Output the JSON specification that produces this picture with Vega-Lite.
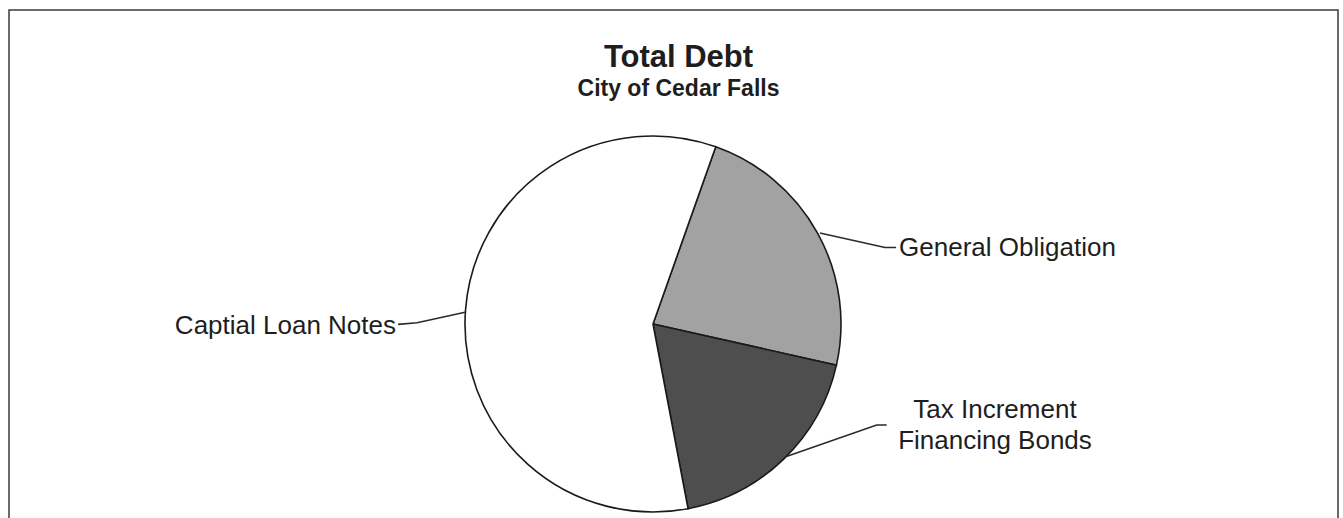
{
  "$schema": "https://vega.github.io/schema/vega-lite/v6.json",
  "width": 1329,
  "height": 512,
  "autosize": "none",
  "padding": {"left": 9, "top": 10, "right": 5, "bottom": -4},
  "background": "white",
  "title": {
    "text": "Total Debt",
    "subtitle": "City of Cedar Falls",
    "anchor": "middle",
    "offset": -92,
    "dx": 5,
    "font": "Liberation Sans",
    "fontSize": 31,
    "fontWeight": "bold",
    "color": "#1e1e1e",
    "subtitleFont": "Liberation Sans",
    "subtitleFontSize": 23,
    "subtitleFontWeight": "bold",
    "subtitleColor": "#1e1e1e",
    "subtitlePadding": 4
  },
  "datasets": {
    "slices": [
      {"category": "General Obligation", "share": 23.1, "ord": 1},
      {"category": "Tax Increment Financing Bonds", "share": 18.5, "ord": 2},
      {"category": "Captial Loan Notes", "share": 58.4, "ord": 3}
    ],
    "leaders": [
      {"category": "General Obligation", "seq": 1, "lx": 0.888, "ly": 0.484},
      {"category": "General Obligation", "seq": 2, "lx": 1.234, "ly": 0.407},
      {"category": "General Obligation", "seq": 3, "lx": 1.293, "ly": 0.407},
      {"category": "Captial Loan Notes", "seq": 1, "lx": -1.0, "ly": 0.062},
      {"category": "Captial Loan Notes", "seq": 2, "lx": -1.255, "ly": 0.007},
      {"category": "Captial Loan Notes", "seq": 3, "lx": -1.356, "ly": -0.002},
      {"category": "Tax Increment Financing Bonds", "seq": 1, "lx": 0.702, "ly": -0.707},
      {"category": "Tax Increment Financing Bonds", "seq": 2, "lx": 1.19, "ly": -0.537},
      {"category": "Tax Increment Financing Bonds", "seq": 3, "lx": 1.243, "ly": -0.537}
    ],
    "labels": [
      {"category": "General Obligation", "text": ["General Obligation"], "lx": 1.309, "ly": 0.362, "side": "left"},
      {"category": "Captial Loan Notes", "text": ["Captial Loan Notes"], "lx": -1.367, "ly": -0.053, "side": "right"},
      {"category": "Tax Increment Financing Bonds", "text": ["Tax Increment", "Financing Bonds"], "lx": 1.819, "ly": -0.502, "side": "center"}
    ]
  },
  "encoding": {
    "x": {"field": "lx", "type": "quantitative", "axis": null, "scale": {"domain": [-3.4255, 3.6436], "nice": false, "zero": false}},
    "y": {"field": "ly", "type": "quantitative", "axis": null, "scale": {"domain": [-1.0532, 1.6702], "nice": false, "zero": false}}
  },
  "layer": [
    {
      "data": {"name": "slices"},
      "mark": {
        "type": "arc",
        "x": {"expr": "scale('x', 0)"},
        "y": {"expr": "scale('y', 0)"},
        "outerRadius": {"expr": "scale('x', 1) - scale('x', 0)"},
        "stroke": "#1a1a1a",
        "strokeWidth": 1.6
      },
      "encoding": {
        "x": null,
        "y": null,
        "theta": {"field": "share", "type": "quantitative", "stack": true, "scale": {"range": [0.3403, 6.6235]}},
        "order": {"field": "ord", "type": "quantitative"},
        "color": {
          "field": "category",
          "type": "nominal",
          "legend": null,
          "scale": {
            "domain": ["General Obligation", "Tax Increment Financing Bonds", "Captial Loan Notes"],
            "range": ["#a2a2a2", "#4e4e4e", "#ffffff"]
          }
        }
      }
    },
    {
      "data": {"name": "leaders"},
      "mark": {"type": "line", "color": "#2a2a2a", "strokeWidth": 1.6},
      "encoding": {
        "detail": {"field": "category", "type": "nominal"},
        "order": {"field": "seq", "type": "quantitative"}
      }
    },
    {
      "data": {"name": "labels"},
      "transform": [{"filter": "datum.side === 'left'"}],
      "mark": {"type": "text", "align": "left", "baseline": "alphabetic", "font": "Liberation Sans", "fontSize": 26, "color": "#1e1e1e"},
      "encoding": {"text": {"field": "text"}}
    },
    {
      "data": {"name": "labels"},
      "transform": [{"filter": "datum.side === 'right'"}],
      "mark": {"type": "text", "align": "right", "baseline": "alphabetic", "font": "Liberation Sans", "fontSize": 26, "color": "#1e1e1e"},
      "encoding": {"text": {"field": "text"}}
    },
    {
      "data": {"name": "labels"},
      "transform": [{"filter": "datum.side === 'center'"}],
      "mark": {"type": "text", "align": "center", "baseline": "alphabetic", "font": "Liberation Sans", "fontSize": 26, "lineHeight": 30.5, "color": "#1e1e1e"},
      "encoding": {"text": {"field": "text"}}
    }
  ],
  "config": {
    "view": {"stroke": "#3a3a3a", "strokeWidth": 1.5}
  }
}
